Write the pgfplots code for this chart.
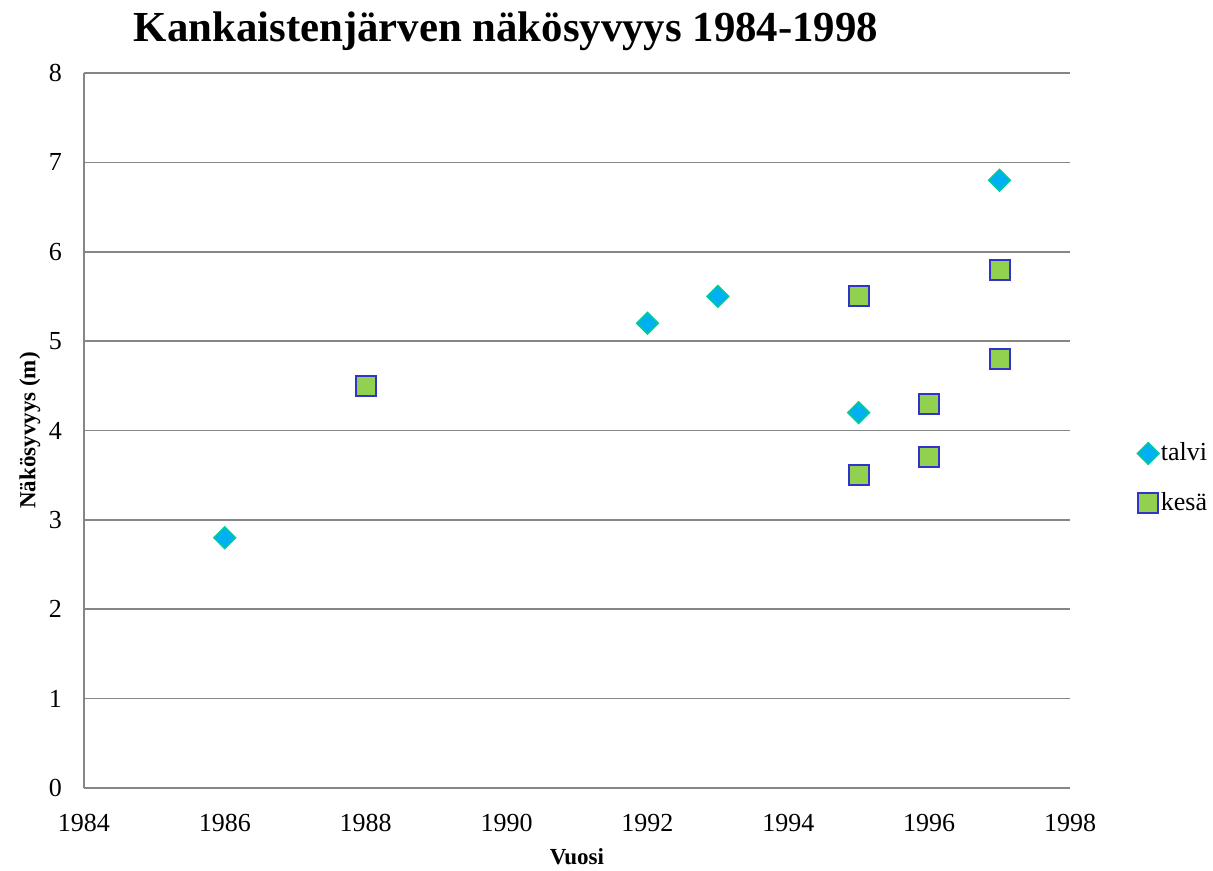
\documentclass[border=0pt]{standalone}
\usepackage{pgfplots}
\pgfplotsset{compat=1.18}
\usepackage{fontspec}
\setmainfont{Liberation Serif}
\definecolor{talvifill}{HTML}{00B0F0}
\definecolor{talvidraw}{HTML}{00CC99}
\definecolor{kesafill}{HTML}{92D050}
\definecolor{kesadraw}{HTML}{3333CC}
\definecolor{gridc}{HTML}{868686}
\begin{document}
\begin{tikzpicture}
\useasboundingbox (0,0) rectangle (606.5pt,435.5pt);
\begin{axis}[
  at={(42pt,41.5pt)}, anchor=south west,
  scale only axis, width=493pt, height=357.5pt,
  xmin=1984, xmax=1998, ymin=0, ymax=8,
  xtick={1984,1986,...,1998}, ytick={0,1,...,8},
  /pgf/number format/assume math mode=true,
  /pgf/number format/1000 sep={},
  axis x line*=bottom, axis y line*=left,
  axis line style={gridc, line width=0.8pt, -},
  ymajorgrids, grid style={gridc, line width=0.8pt},
  major tick length=0pt,
  tick label style={font=\fontsize{13}{15}\selectfont, black},
  xticklabel style={yshift=-9.5pt},
  yticklabel style={xshift=-7.5pt},
  xlabel={\textbf{Vuosi}}, ylabel={\textbf{Näkösyvyys (m)}},
  label style={font=\fontsize{11.5}{13}\selectfont},
  xlabel style={at={(axis description cs:0.5,0)}, anchor=center, yshift=-34.5pt},
  ylabel style={at={(axis description cs:0,0.5)}, anchor=center, yshift=27pt},
  legend style={at={(526.5pt,155pt)}, anchor=west, draw=none, fill=none,
    font=\fontsize{13}{15}\selectfont, row sep=12pt, inner sep=0pt,
    nodes={inner sep=1pt}},
  legend cell align=left,
  legend image code/.code={\draw[#1] (0pt,0pt) plot coordinates {(0pt,0pt)};},
  clip=false,
]
\addplot[only marks, mark=square*, mark size=3.8pt,
  mark options={rotate=45, fill=talvifill, draw=talvidraw, line width=0.8pt}]
  coordinates {(1986,2.8) (1992,5.2) (1993,5.5) (1995,4.2) (1997,6.8)};
\addlegendentry{talvi}
\addplot[only marks, mark=square*, mark size=5pt,
  mark options={fill=kesafill, draw=kesadraw, line width=1pt}]
  coordinates {(1988,4.5) (1995,5.5) (1995,3.5) (1996,4.3) (1996,3.7) (1997,5.8) (1997,4.8)};
\addlegendentry{kesä}
\end{axis}
\node[font=\bfseries\fontsize{21.4}{25}\selectfont, anchor=center] at (253pt,420pt) {Kankaistenjärven näkösyvyys 1984-1998};
\end{tikzpicture}
\end{document}
